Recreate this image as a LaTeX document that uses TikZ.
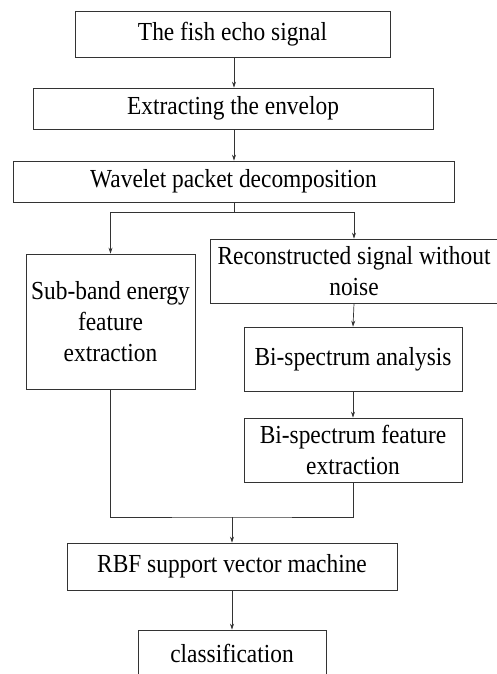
\documentclass[tikz,border=0pt]{standalone}
\usepackage{fontspec}
\setmainfont[FakeStretch=0.9]{Liberation Serif}
\usetikzlibrary{arrows.meta,calc}
\begin{document}
\begin{tikzpicture}[x=1pt,y=-1pt,
  box/.style={draw=black!80,line width=0.7pt,inner sep=0pt,align=center,font=\fontsize{26}{31}\selectfont},
  arr/.style={draw=black!80,line width=0.7pt,-{Stealth[length=6pt,width=4pt]}},
  ln/.style={draw=black!80,line width=0.7pt}]
\useasboundingbox (0,0) rectangle (497,674);
\node[box,minimum width=315pt,minimum height=46pt] (b1) at (232.5,34) {The fish echo signal};
\node[box,minimum width=400pt,minimum height=41pt] (b2) at (233,108.5) {Extracting the envelop};
\node[box,minimum width=441pt,minimum height=41pt] (b3) at (233.5,181.5) {Wavelet packet decomposition};
\node[box,minimum width=169pt,minimum height=135pt] (b4) at (110.5,321.5) {Sub-band energy\\feature\\extraction};
\node[box,minimum width=288pt,minimum height=64pt] (b5) at (354,271) {Reconstructed signal without\\noise};
\node[box,minimum width=218pt,minimum height=64pt] (b6) at (353,359) {Bi-spectrum analysis};
\node[box,minimum width=218pt,minimum height=64pt] (b7) at (353,450) {Bi-spectrum feature\\extraction};
\node[box,minimum width=330pt,minimum height=47pt] (b8) at (232,566.5) {RBF support vector machine};
\node[box,minimum width=188pt,minimum height=46pt] (b9) at (232,653) {classification};
\coordinate (j1) at (234,212);
\coordinate (j2) at (232,517);
\draw[arr] (234,57 |- b1.south) -- (234,88 |- b2.north);
\draw[arr] (234,129 |- b2.south) -- (234,161 |- b3.north);
\draw[ln] (j1 |- b3.south) -- (j1);
\draw[arr] (j1) -| (b4.north);
\draw[arr] (j1) -| (b5.north);
\draw[arr] (b5.south) -- (b6.north);
\draw[arr] (b6.south) -- (b7.north);
\draw[ln] (b4.south) |- (j2) -| (b7.south);
\draw[arr] (j2) -- (j2 |- b8.north);
\draw[arr] (b8.south) -- (b8.south |- b9.north);
\end{tikzpicture}
\end{document}
